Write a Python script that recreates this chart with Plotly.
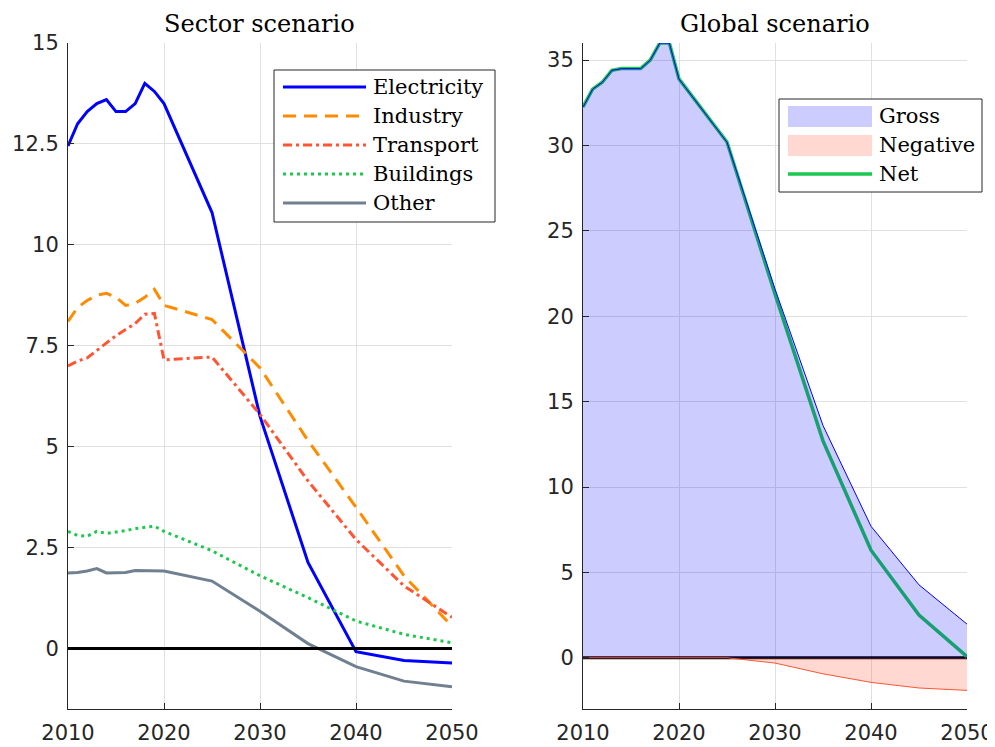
import plotly.graph_objects as go

years = [2010, 2011, 2012, 2013, 2014, 2015, 2016, 2017, 2018, 2019, 2020,
         2025, 2030, 2035, 2040, 2045, 2050]

electricity = [12.45, 13.0, 13.3, 13.5, 13.6, 13.3, 13.3, 13.5, 14.0, 13.8, 13.5,
               10.8, 5.75, 2.13, -0.08, -0.3, -0.36]
industry = [8.1, 8.45, 8.62, 8.75, 8.8, 8.7, 8.5, 8.55, 8.7, 8.9, 8.5,
            8.15, 6.95, 5.15, 3.5, 1.8, 0.55]
transport = [7.0, 7.12, 7.2, 7.38, 7.55, 7.75, 7.9, 8.05, 8.28, 8.3, 7.15,
             7.22, 5.8, 4.15, 2.7, 1.55, 0.77]
buildings = [2.9, 2.8, 2.78, 2.9, 2.85, 2.88, 2.92, 2.97, 3.0, 3.03, 2.9,
             2.42, 1.8, 1.26, 0.68, 0.35, 0.14]
other = [1.87, 1.88, 1.92, 1.98, 1.87, 1.88, 1.88, 1.93, 1.93, 1.92, 1.92,
         1.67, 0.92, 0.12, -0.45, -0.81, -0.95]

gross = [32.25, 33.3, 33.7, 34.4, 34.5, 34.5, 34.5, 35.0, 36.0, 36.0, 33.9,
         30.2, 21.6, 13.6, 7.7, 4.27, 1.97]
negative = [0, 0, 0, 0, 0, 0, 0, 0, 0, 0, 0,
            0, -0.31, -0.94, -1.44, -1.77, -1.91]
net = [32.25, 33.3, 33.7, 34.4, 34.5, 34.5, 34.5, 35.0, 36.0, 36.0, 33.9,
       30.2, 21.3, 12.7, 6.3, 2.5, 0.07]

sector_names = ["Electricity", "Industry", "Transport", "Buildings", "Other"]
global_names = ["Gross", "Negative", "Net"]
titles = ["Sector scenario", "Global scenario"]

x_ticks = [2010, 2020, 2030, 2040, 2050]
left_yticks = [0, 2.5, 5, 7.5, 10, 12.5, 15]
left_yticklabels = ["0", "2.5", "5", "7.5", "10", "12.5", "15"]
right_yticks = [0, 5, 10, 15, 20, 25, 30, 35]

SERIF = "DejaVu Serif"
SANS = "DejaVu Sans"
AX = "#262626"
GRID = "#e0e0e0"

# page body has an 8px margin, so the figure is slightly smaller than the window
OFF = 8
FW, FH = 995 - OFF, 747 - OFF


def px(X):
    return (X - OFF) / FW


def py(Y):
    return 1 - (Y - OFF) / FH


sector_styles = [
    ("#0000ff", "solid"),
    ("#ff8c00", "13px,8px"),
    ("#ff5533", "9px,4px,3px,4px"),
    ("#1ec850", "3px,4px"),
    ("#708090", "solid"),
]
sector_values = [electricity, industry, transport, buildings, other]

fig = go.Figure()

for name, vals, (col, dash) in zip(sector_names, sector_values, sector_styles):
    fig.add_trace(go.Scatter(x=years, y=vals, mode="lines", name=name,
                             line=dict(color=col, width=3, dash=dash),
                             xaxis="x", yaxis="y", showlegend=False))

GREEN = "#1ec850"
GROSS_FILL = "rgba(0,0,255,0.2)"
NEG_FILL = "rgba(255,99,71,0.25)"

# Right panel: zero line and net line first (area fills drawn over them)
fig.add_trace(go.Scatter(x=[years[0], years[-1]], y=[0, 0], mode="lines",
                         line=dict(color="black", width=3), hoverinfo="skip",
                         xaxis="x2", yaxis="y2", showlegend=False))
fig.add_trace(go.Scatter(x=years, y=net, mode="lines", name="Net",
                         line=dict(color=GREEN, width=3.5),
                         xaxis="x2", yaxis="y2", showlegend=False))
fig.add_trace(go.Scatter(x=years, y=gross, mode="lines", name="Gross",
                         fill="tozeroy", fillcolor=GROSS_FILL,
                         line=dict(color="#0000ff", width=1),
                         xaxis="x2", yaxis="y2", showlegend=False))
fig.add_trace(go.Scatter(x=years, y=negative, mode="lines", name="Negative",
                         fill="tozeroy", fillcolor=NEG_FILL,
                         line=dict(color="#ff5533", width=1),
                         xaxis="x2", yaxis="y2", showlegend=False))

shapes = []
annotations = []

# left zero line
shapes.append(dict(type="line", xref="x", yref="y", x0=2010, x1=2050, y0=0, y1=0,
                   line=dict(color="black", width=3), layer="above"))

# ---- left legend (drawn manually to match the reference box) ----
shapes.append(dict(type="rect", xref="paper", yref="paper",
                   x0=px(274), x1=px(495), y0=py(222), y1=py(70),
                   line=dict(color=AX, width=1), fillcolor="white", layer="above"))
left_rows = [87, 116, 145, 174, 203]
for name, (col, dash), ry in zip(sector_names, sector_styles, left_rows):
    shapes.append(dict(type="line", xref="paper", yref="paper",
                       x0=px(283), x1=px(366), y0=py(ry), y1=py(ry),
                       line=dict(color=col, width=3, dash=dash), layer="above"))
    annotations.append(dict(text=name, x=px(371), y=py(ry), xref="paper", yref="paper",
                            showarrow=False, xanchor="left", yanchor="middle",
                            font=dict(family=SERIF, size=21, color="black")))

# ---- right legend ----
shapes.append(dict(type="rect", xref="paper", yref="paper",
                   x0=px(779), x1=px(982), y0=py(192), y1=py(99),
                   line=dict(color=AX, width=1), fillcolor="white", layer="above"))
shapes.append(dict(type="rect", xref="paper", yref="paper",
                   x0=px(788), x1=px(872), y0=py(127), y1=py(106),
                   line=dict(width=0), fillcolor=GROSS_FILL, layer="above"))
shapes.append(dict(type="rect", xref="paper", yref="paper",
                   x0=px(788), x1=px(872), y0=py(156), y1=py(135),
                   line=dict(width=0), fillcolor=NEG_FILL, layer="above"))
shapes.append(dict(type="line", xref="paper", yref="paper",
                   x0=px(788), x1=px(872), y0=py(174), y1=py(174),
                   line=dict(color=GREEN, width=3.5), layer="above"))
for name, ry in zip(global_names, [116, 145, 174]):
    annotations.append(dict(text=name, x=px(877), y=py(ry), xref="paper", yref="paper",
                            showarrow=False, xanchor="left", yanchor="middle",
                            font=dict(family=SERIF, size=21, color="black")))

# titles
for t, cx in zip(titles, [260, 775]):
    annotations.append(dict(text=t, x=px(cx), y=py(24), xref="paper", yref="paper",
                            showarrow=False, xanchor="center", yanchor="middle",
                            borderpad=0,
                            font=dict(family=SERIF, size=24, color="black")))

ydom = [py(709), py(43)]

axis_common = dict(showline=True, linecolor=AX, linewidth=1, ticks="inside",
                   ticklen=6, tickcolor=AX, showgrid=True, gridcolor=GRID,
                   gridwidth=1, zeroline=False, automargin=False,
                   tickfont=dict(family=SANS, size=21, color=AX), mirror=False)

fig.update_layout(
    width=FW, height=FH,
    margin=dict(l=0, r=0, t=0, b=0),
    paper_bgcolor="white", plot_bgcolor="white",
    showlegend=False,
    xaxis=dict(domain=[px(68), px(452)], range=[2010, 2050], tickvals=x_ticks,
               anchor="y", ticklabelstandoff=5, **axis_common),
    yaxis=dict(domain=ydom, range=[-1.5, 15], tickvals=left_yticks,
               ticktext=left_yticklabels, anchor="x", ticklabelstandoff=4,
               **axis_common),
    xaxis2=dict(domain=[px(583), px(967)], range=[2010, 2050], tickvals=x_ticks,
                anchor="y2", ticklabelstandoff=5, **axis_common),
    yaxis2=dict(domain=ydom, range=[-3, 36], tickvals=right_yticks,
                anchor="x2", ticklabelstandoff=4, **axis_common),
    shapes=shapes,
    annotations=annotations,
)

fig.write_html("out.html")
